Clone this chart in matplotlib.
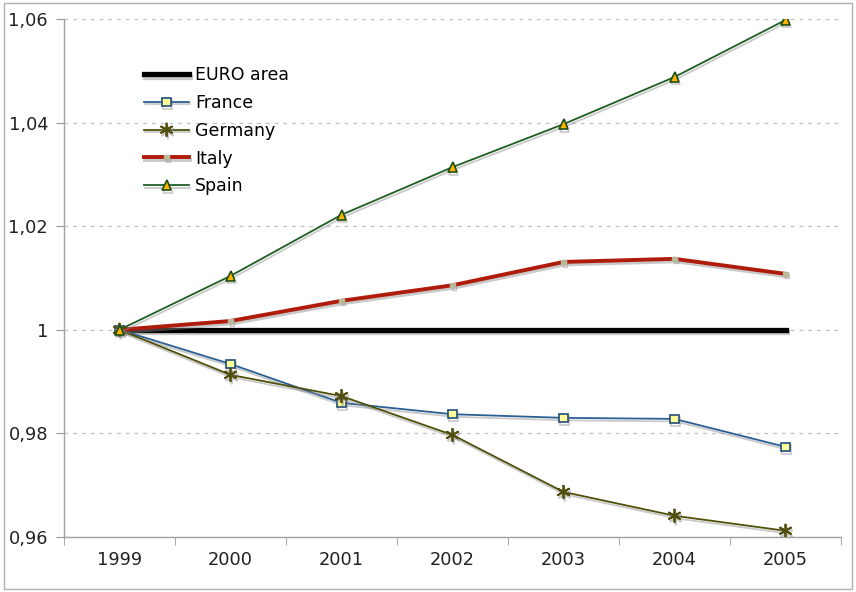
import numpy as np
import matplotlib
matplotlib.use("Agg")
import matplotlib.pyplot as plt
import matplotlib.patheffects as pe
from matplotlib.ticker import FixedLocator, FuncFormatter

plt.rcParams['font.family'] = ['DejaVu Sans']

years = ['1999', '2000', '2001', '2002', '2003', '2004', '2005']
euro = [1.0, 1.0, 1.0, 1.0, 1.0, 1.0, 1.0]
france = [1.0, 0.9934, 0.9859, 0.9837, 0.9830, 0.9828, 0.9774]
germany = [1.0, 0.9913, 0.9872, 0.9797, 0.9687, 0.9641, 0.9612]
italy = [1.0, 1.0017, 1.0056, 1.0086, 1.0131, 1.0137, 1.0108]
spain = [1.0, 1.0104, 1.0222, 1.0314, 1.0397, 1.0488, 1.0598]

fig = plt.figure(figsize=(8.56, 5.92), dpi=100)
# outer gray frame
fig.patches.append(plt.Rectangle((0.005, 0.005), 0.99, 0.99, transform=fig.transFigure,
                                 fill=False, edgecolor='#b0b0b0', linewidth=1))
ax = fig.add_axes([64/856, 1 - 537/592, (841-64)/856, (537-19)/592])

x = np.arange(len(years))
shadow = [pe.SimpleLineShadow(offset=(0.8, -1.8), shadow_color='#888888', alpha=0.45), pe.Normal()]

ax.plot(x, euro, color='black', linewidth=3.8, label='EURO area', path_effects=shadow, zorder=3)
ax.plot(x, france, color='#2a5f93', linewidth=1.3, marker='s', markersize=6,
        markerfacecolor='#ffff99', markeredgecolor='#1f4e79', markeredgewidth=1.2,
        label='France', path_effects=shadow, zorder=4)
ax.plot(x, germany, color='#4f4f0a', linewidth=1.3, marker=(6, 2, 0), markersize=10,
        markeredgecolor='#4f4f0a', markeredgewidth=1.3,
        label='Germany', path_effects=shadow, zorder=4)
ax.plot(x, italy, color='#b01c0c', linewidth=2.8, marker='s', markersize=3,
        markerfacecolor='#b8b89a', markeredgecolor='#b8b89a',
        label='Italy', path_effects=shadow, zorder=4)
ax.plot(x, spain, color='#1e5e22', linewidth=1.3, marker='^', markersize=7,
        markerfacecolor='#ffb400', markeredgecolor='#1e4e14', markeredgewidth=1.2,
        label='Spain', path_effects=shadow, zorder=5)

ax.set_xlim(-0.5, len(years) - 0.5)
ax.set_ylim(0.96, 1.06)
ax.set_yticks([0.96, 0.98, 1.0, 1.02, 1.04, 1.06])
ax.yaxis.set_major_formatter(FuncFormatter(lambda v, p: '1' if abs(v - 1) < 1e-9 else ('%.2f' % v).replace('.', ',')))
ax.set_xticks(x)
ax.set_xticklabels(years)
ax.xaxis.set_minor_locator(FixedLocator(np.arange(-0.5, len(years), 1.0)))
ax.tick_params(axis='x', which='major', length=0, pad=10, labelsize=12.8, colors='#222222')
ax.tick_params(axis='x', which='minor', length=6, color='#999999', direction='out')
ax.tick_params(axis='y', which='major', length=6, color='#999999', direction='out', pad=5.5,
               labelsize=12.8, labelcolor='#222222')

ax.yaxis.grid(True, linestyle=(0, (3, 4)), color='#c0c0c0', linewidth=0.9)
ax.set_axisbelow(True)
for s in ['top', 'right']:
    ax.spines[s].set_visible(False)
for s in ['left', 'bottom']:
    ax.spines[s].set_color('#a0a0a0')
    ax.spines[s].set_linewidth(1)

leg = ax.legend(loc='upper left', bbox_to_anchor=(0.094, 0.922), frameon=False, fontsize=12.5,
                handlelength=2.6, handletextpad=0.35, labelspacing=0.56, borderaxespad=0)

fig.savefig('out.png', dpi=100)
